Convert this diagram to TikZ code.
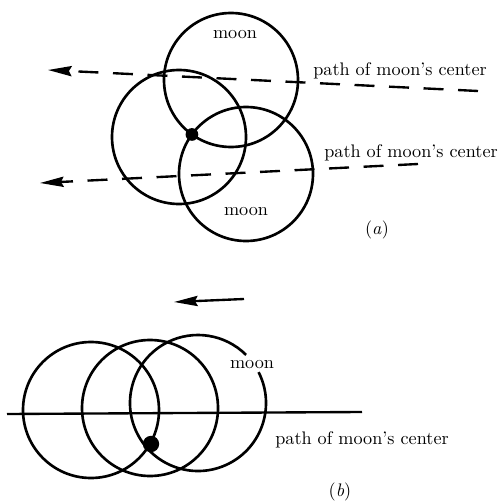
\documentclass[tikz,border=0pt]{standalone}
\usetikzlibrary{arrows.meta,intersections}
\begin{document}
\begin{tikzpicture}[x=0.55pt,y=-0.55pt,
  rim/.style={line width=1.45pt},
  pathline/.style={line width=1.3pt, dash pattern=on 11pt off 8pt},
  headtip/.style={-{Stealth[length=13pt,width=5.6pt,inset=1.5pt]}},
  lbl/.style={font=\normalsize, inner sep=0pt},
  dotmark/.style={fill=black, circle, inner sep=0pt, minimum size=#1}]
\useasboundingbox (0,0) rectangle (503,502);
% ---------- (a) ----------
\coordinate (mt) at (231,80);
\coordinate (sa) at (179,137);
\coordinate (mb) at (246,174);
\draw[rim, name path=topmoon] (mt) circle[radius=67];
\draw[rim] (sa) circle[radius=67];
\draw[rim, name path=botmoon] (mb) circle[radius=67];
\path[name intersections={of=topmoon and botmoon, by={ia1,ia2}}];
\node[dotmark=7pt] (dota) at (ia2) {};
\coordinate (p1r) at (478,91);
\coordinate (p1l) at (48,70);
\coordinate (p2r) at (418,164);
\coordinate (p2l) at (40,183);
\draw[pathline, headtip] (p1r) -- (p1l);
\draw[pathline, headtip] (p2r) -- (p2l);
\node[lbl] (moonA) at (235,35) {moon};
\node[lbl] (moonB) at (246,212) {moon};
\node[lbl] (pathA) at (400,71) {path of moon's center};
\node[lbl] (pathB) at (411,153) {path of moon's center};
\node[lbl] (capa) at (377,230) {(\textit{a})};
% ---------- (b) ----------
\coordinate (bl) at (91,410);
\coordinate (bm) at (150,408);
\coordinate (br) at (198,403);
\draw[rim, name path=leftc] (bl) circle[radius=68];
\draw[rim] (bm) circle[radius=68];
\draw[rim] (br) ++(-27:68) arc[start angle=-27, end angle=315, radius=68];
\path[name path=rightc] (br) circle[radius=68];
\path[name intersections={of=leftc and rightc, by={ib1,ib2}}];
\coordinate (ll) at (7,414);
\coordinate (lr) at (362,412);
\draw[line width=1.3pt] (ll) -- (lr);
\coordinate (ar) at (244,299);
\coordinate (al) at (174,302);
\draw[line width=1.3pt, headtip] (ar) -- (al);
\node[lbl] (moonC) at (252,365) {moon};
\node[lbl] (pathC) at (362,440) {path of moon's center};
\node[lbl] (capb) at (340,492) {(\textit{b})};
\node[dotmark=9pt] (dotb) at (151,444) {};
\end{tikzpicture}
\end{document}
